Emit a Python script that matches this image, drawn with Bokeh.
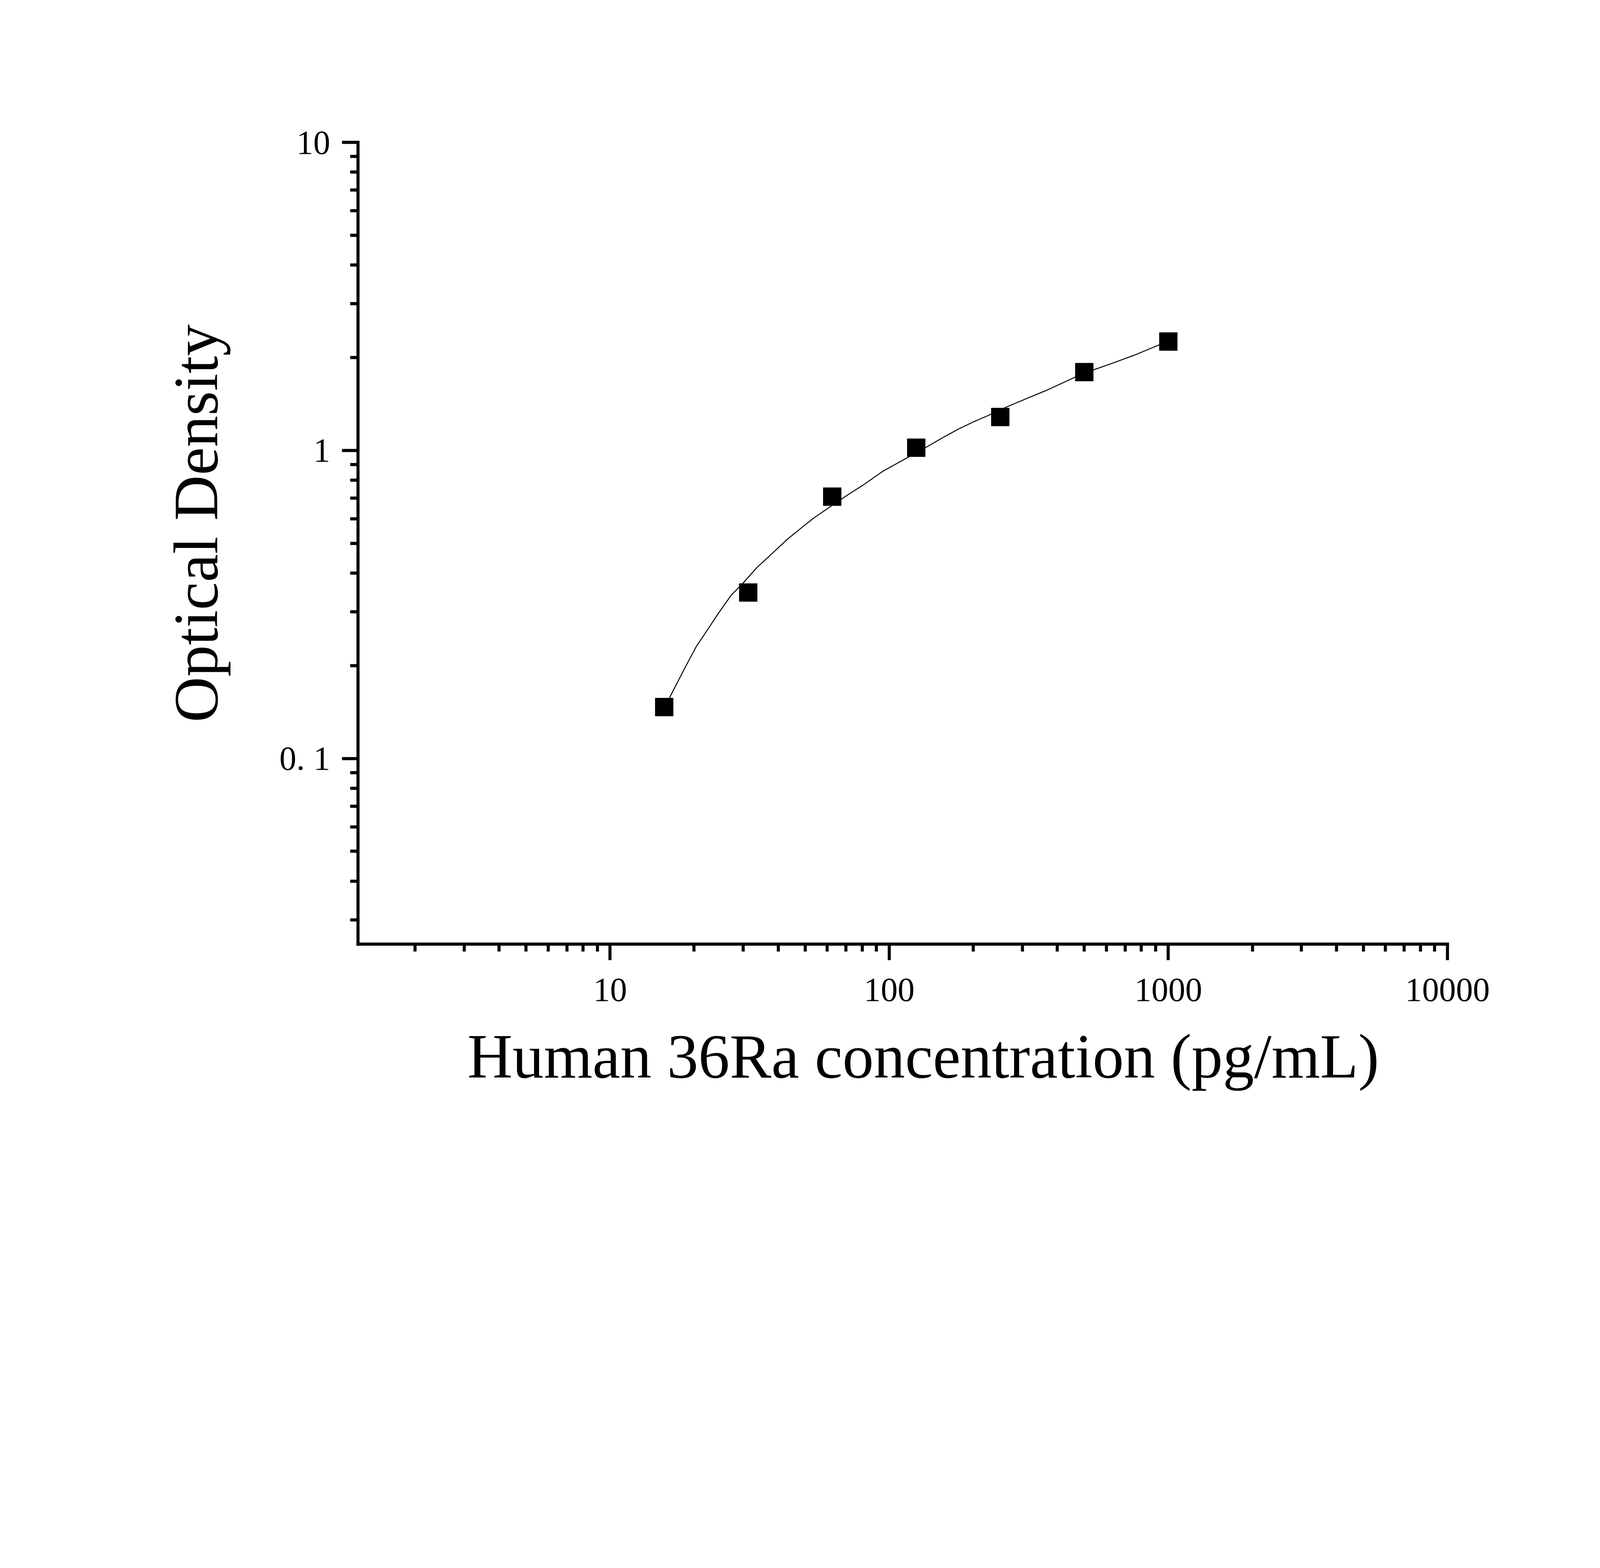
from bokeh.plotting import figure
from bokeh.models import Range1d, FixedTicker, Title
from bokeh.embed import file_html
from bokeh.resources import INLINE

# standard concentrations (pg/mL) and measured OD
conc = [15.625, 31.25, 62.5, 125, 250, 500, 1000]
od = [0.147, 0.346, 0.708, 1.021, 1.284, 1.796, 2.257]

# fitted curve
curve_x = [15.625, 16.31, 18.70, 20.36, 22.43, 24.50, 27.21, 29.97, 33.54, 38.14,
           43.38, 48.56, 53.48, 62.32, 71.44, 80.58, 94.66, 117.2, 134.4, 152.9,
           176.7, 200.9, 232.3, 260.0, 310.3, 364.5, 463.8, 536.2, 640.0, 751.7,
           926.8, 1000]
curve_y = [0.145, 0.1573, 0.2000, 0.2310, 0.2634, 0.2972, 0.3398, 0.3714, 0.4164, 0.4640,
           0.5171, 0.5617, 0.6023, 0.6628, 0.7200, 0.7720, 0.8550, 0.9520, 1.019, 1.091,
           1.173, 1.240, 1.312, 1.377, 1.474, 1.565, 1.730, 1.823, 1.929, 2.035,
           2.201, 2.26]

x_ticks = [10, 100, 1000, 10000]
x_tick_labels = ["10", "100", "1000", "10000"]
y_ticks = [0.1, 1, 10]
y_tick_labels = ["0. 1", "1", "10"]

x_label = "Human 36Ra concentration (pg/mL)"
y_label = "Optical Density"

FONT = "Liberation Serif"
# sizes below are measured in screenshot pixels; the browser runs at ~1.405 device px per css px
D = 1.405


def px(v):
    return int(round(v / D))


def fs(v):
    return f"{v / D:.1f}px"


x_minor = [m * 10 ** e for e in range(0, 4) for m in range(2, 10)]
y_minor = [m * 10.0 ** e for e in range(-2, 1) for m in range(2, 10) if m * 10.0 ** e > 0.025]

left = px(1286.5)
top = px(512)
fw = px(5205.5) - left
fh = px(3396.5) - top
total_w = int(5749 / D) - 2
total_h = int(4015 / D) - 2

p = figure(
    x_axis_type="log", y_axis_type="log",
    x_range=Range1d(1.25, 10000), y_range=Range1d(0.025, 10),
    frame_width=fw, frame_height=fh,
    min_border_left=left, min_border_top=top,
    min_border_right=total_w - left - fw, min_border_bottom=total_h - top - fh,
    output_backend="svg", toolbar_location=None,
)
p.outline_line_color = None
p.background_fill_color = "white"
p.border_fill_color = "white"
p.xgrid.visible = False
p.ygrid.visible = False

p.line(curve_x, curve_y, line_color="black", line_width=3.5 / D)
p.scatter(conc, od, marker="square", size=64.5 / D, fill_color="black", line_color="black")

p.xaxis.ticker = FixedTicker(ticks=x_ticks, minor_ticks=x_minor)
p.yaxis.ticker = FixedTicker(ticks=y_ticks, minor_ticks=y_minor)
p.xaxis.major_label_overrides = dict(zip(x_ticks, x_tick_labels))
p.yaxis.major_label_overrides = dict(zip(y_ticks, y_tick_labels))

for ax in (p.xaxis, p.yaxis):
    ax.axis_line_color = "black"
    ax.axis_line_width = 11 / D
    ax.axis_line_cap = "square"
    ax.major_tick_line_color = "black"
    ax.major_tick_line_width = 11 / D
    ax.minor_tick_line_color = "black"
    ax.minor_tick_line_width = 11 / D
    ax.major_tick_in = 0
    ax.minor_tick_in = 0
    ax.major_label_text_font = FONT
    ax.major_label_text_font_size = fs(122)
    ax.major_label_text_color = "black"

p.xaxis.major_tick_out = px(57)
p.xaxis.minor_tick_out = px(27)
p.yaxis.major_tick_out = px(58)
p.yaxis.minor_tick_out = px(28)
p.xaxis.major_label_standoff = px(66)
p.yaxis.major_label_standoff = px(42)

# axis titles sit off-centre in the reference, so anchor them at one end with an offset
p.add_layout(Title(
    text=x_label, align="left", offset=px(393), standoff=px(135),
    text_font=FONT, text_font_size=fs(225), text_font_style="normal", text_color="black",
), "below")
p.add_layout(Title(
    text=y_label, align="left", offset=px(798), standoff=px(341),
    text_font=FONT, text_font_size=fs(227), text_font_style="normal", text_color="black",
), "left")

open("out.html", "w").write(file_html(p, INLINE))
